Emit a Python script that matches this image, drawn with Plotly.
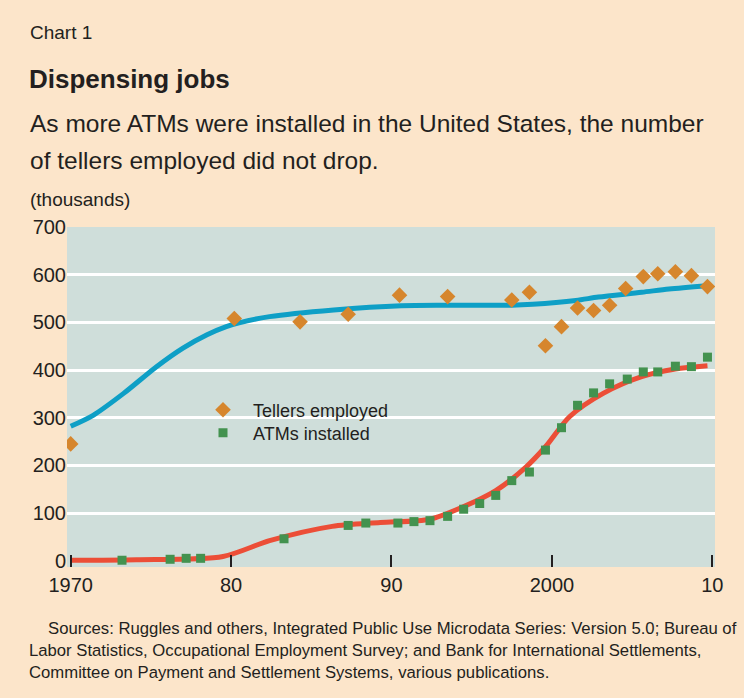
import plotly.graph_objects as go

# ---- data (thousands) ----
teller_years = [1970.0, 1980.2, 1984.3, 1987.3, 1990.5, 1993.5, 1997.5, 1998.6, 1999.6, 2000.6,
                2001.6, 2002.6, 2003.6, 2004.6, 2005.7, 2006.6, 2007.7, 2008.7, 2009.7]
tellers = [245, 508, 501, 517, 557, 554, 547, 563, 451, 491,
           530, 525, 536, 571, 596, 602, 606, 598, 575]

atm_years = [1973.2, 1976.2, 1977.2, 1978.1, 1983.3, 1987.3, 1988.4, 1990.4, 1991.4, 1992.4,
             1993.5, 1994.5, 1995.5, 1996.5, 1997.5, 1998.6, 1999.6, 2000.6, 2001.6, 2002.6,
             2003.6, 2004.7, 2005.7, 2006.6, 2007.7, 2008.7, 2009.7]
atms = [1, 3, 5, 5, 46, 74, 79, 79, 82, 84,
        93, 108, 120, 137, 168, 186, 232, 279, 326, 352,
        371, 381, 396, 396, 408, 407, 427]

teller_trend_years = [1970, 1971.4, 1973.3, 1975.35, 1977.0, 1978.5, 1979.7, 1980.5, 1982.4, 1986.4,
                      1990.6, 1993.4, 1997.5, 1998.8, 2001.5, 2002.9, 2005.6, 2007.3, 2009.7]
teller_trend = [282, 305, 351, 407, 446, 474, 491, 499, 512, 526,
                535, 536, 536, 538, 546, 553, 563, 570, 577]

atm_trend_years = [1970, 1974.1, 1979.5, 1982.4, 1986.3, 1989.3, 1992.4, 1994.4, 1996.5, 1998.4,
                   1999.6, 2001.1, 2003.2, 2005.6, 2007.7, 2009.7]
atm_trend = [1, 2, 9, 42, 72, 80, 87, 112, 147, 197,
             239, 302, 351, 386, 402, 409]

x_tickvals = [1970, 1980, 1990, 2000, 2010]
x_ticktext = ["1970", "80", "90", "2000", "10"]
y_tickvals = [0, 100, 200, 300, 400, 500, 600, 700]
grid_vals = [100, 200, 300, 400, 500, 600]

# ---- styles ----
PAPER = "#FCE5CA"
PLOT = "#CFDEDA"
BLUE = "#0E9FC6"
RED = "#EC4E37"
ORANGE = "#D6862D"
GREEN = "#43924F"
TEXT = "#231F20"
FONT = "Liberation Sans, Arial, sans-serif"

W, H = 744, 698
L, R, T, B = 67, 29, 227, 131


def px(x):
    return (x - L) / (W - L - R)


def py(y):
    return (H - B - y) / (H - T - B)


fig = go.Figure()
fig.add_trace(go.Scatter(x=teller_trend_years, y=teller_trend, mode="lines",
                         line=dict(color=BLUE, width=5, shape="spline", smoothing=0.8),
                         showlegend=False, hoverinfo="skip"))
fig.add_trace(go.Scatter(x=atm_trend_years, y=atm_trend, mode="lines",
                         line=dict(color=RED, width=5, shape="spline", smoothing=0.8),
                         showlegend=False, hoverinfo="skip"))
fig.add_trace(go.Scatter(x=teller_years, y=tellers, mode="markers",
                         name="\u00a0\u00a0Tellers employed", legend="legend",
                         marker=dict(symbol="diamond", size=12, color=ORANGE)))
fig.add_trace(go.Scatter(x=atm_years, y=atms, mode="markers",
                         name="\u00a0\u00a0ATMs installed", legend="legend2",
                         marker=dict(symbol="square", size=9, color=GREEN)))

annotations = [
    dict(text="Chart 1", x=px(28), y=py(32), font=dict(size=19)),
    dict(text="<b>Dispensing jobs</b>", x=px(27), y=py(79), font=dict(size=26)),
    dict(text="As more ATMs were installed in the United States, the number",
         x=px(28), y=py(124), font=dict(size=24.5)),
    dict(text="of tellers employed did not drop.", x=px(28), y=py(160), font=dict(size=24.5)),
    dict(text="(thousands)", x=px(28), y=py(199), font=dict(size=19)),
    dict(text="Sources: Ruggles and others, Integrated Public Use Microdata Series: Version 5.0; Bureau of",
         x=px(46), y=py(628), font=dict(size=16.7)),
    dict(text="Labor Statistics, Occupational Employment Survey; and Bank for International Settlements,",
         x=px(27), y=py(650), font=dict(size=16.7)),
    dict(text="Committee on Payment and Settlement Systems, various publications.",
         x=px(27), y=py(672), font=dict(size=16.7)),
]
for a in annotations:
    a.update(xref="paper", yref="paper", xanchor="left", yanchor="middle", showarrow=False)
    a["font"].update(color=TEXT, family=FONT)

legend_common = dict(x=px(203), xanchor="left", yanchor="middle",
                     bgcolor="rgba(0,0,0,0)", font=dict(size=18, color=TEXT, family=FONT),
                     itemsizing="trace")

fig.update_layout(
    width=W, height=H,
    margin=dict(l=L, r=R, t=T, b=B, pad=0),
    paper_bgcolor=PAPER, plot_bgcolor=PLOT,
    font=dict(family=FONT, color=TEXT, size=20),
    showlegend=True,
    legend=dict(y=py(410), **legend_common),
    legend2=dict(y=py(433), **legend_common),
    annotations=annotations,
    xaxis=dict(range=[1969.77, 2010.17], tickvals=x_tickvals, ticktext=x_ticktext,
               ticks="inside", ticklen=12, tickwidth=2, tickcolor=TEXT,
               showgrid=False, zeroline=False, showline=False, ticklabelstandoff=4,
               tickfont=dict(size=20, color=TEXT), fixedrange=True),
    yaxis=dict(range=[-13.2, 700], tickvals=y_tickvals, showgrid=False, zeroline=False,
               showline=False, ticks="", tickfont=dict(size=20, color=TEXT), fixedrange=True),
    yaxis2=dict(range=[-13.2, 700], overlaying="y", side="left", tickvals=grid_vals,
                showgrid=True, gridcolor="white", gridwidth=3, showticklabels=False,
                zeroline=False, showline=False, ticks="", fixedrange=True),
)
# invisible helper trace so yaxis2 is drawn
fig.add_trace(go.Scatter(x=[None], y=[None], yaxis="y2", showlegend=False, hoverinfo="skip"))

fig.write_html("out.html")
